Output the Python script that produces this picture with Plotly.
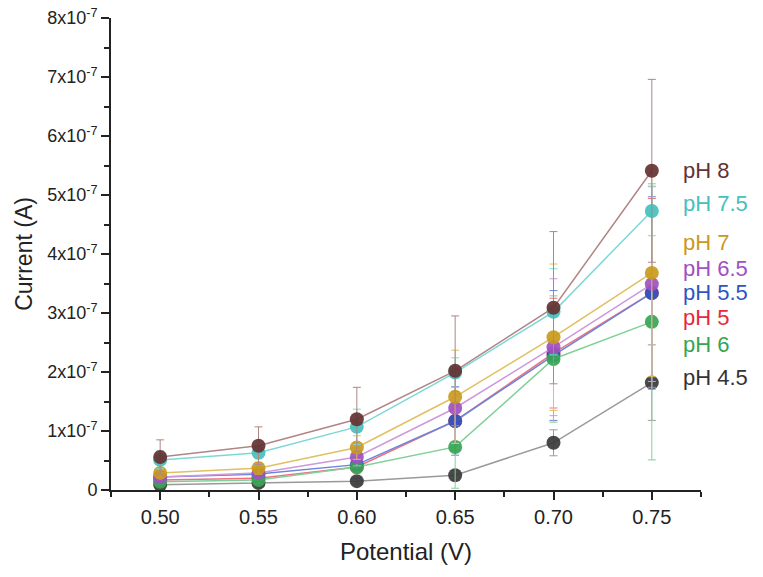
import plotly.graph_objects as go

potential = [0.50, 0.55, 0.60, 0.65, 0.70, 0.75]

series_names = ["pH 4.5", "pH 5", "pH 5.5", "pH 6", "pH 6.5", "pH 7", "pH 7.5", "pH 8"]

ph45 = [0.9e-8, 1.2e-8, 1.5e-8, 2.5e-8, 8.0e-8, 1.82e-7]
ph5 = [1.7e-8, 2.0e-8, 3.9e-8, 1.17e-7, 2.32e-7, 3.34e-7]
ph55 = [2.2e-8, 2.7e-8, 4.3e-8, 1.17e-7, 2.28e-7, 3.34e-7]
ph6 = [1.4e-8, 1.7e-8, 3.9e-8, 7.3e-8, 2.22e-7, 2.85e-7]
ph65 = [2.2e-8, 2.9e-8, 5.6e-8, 1.39e-7, 2.42e-7, 3.49e-7]
ph7 = [2.9e-8, 3.7e-8, 7.2e-8, 1.58e-7, 2.59e-7, 3.68e-7]
ph75 = [5.1e-8, 6.3e-8, 1.07e-7, 1.99e-7, 3.02e-7, 4.73e-7]
ph8 = [5.6e-8, 7.5e-8, 1.20e-7, 2.02e-7, 3.09e-7, 5.41e-7]

err45 = [0.3e-8, 0.4e-8, 0.5e-8, 0.8e-8, 0.22e-7, 0.64e-7]
err5 = [0.5e-8, 0.6e-8, 1.0e-8, 0.5e-7, 0.93e-7, 1.6e-7]
err55 = [0.6e-8, 0.8e-8, 1.2e-8, 0.58e-7, 1.1e-7, 1.63e-7]
err6 = [0.5e-8, 0.6e-8, 1.0e-8, 0.7e-7, 1.07e-7, 2.34e-7]
err65 = [0.6e-8, 0.8e-8, 1.5e-8, 0.6e-7, 1.16e-7, 1.65e-7]
err7 = [0.8e-8, 1.0e-8, 2.0e-8, 0.79e-7, 1.24e-7, 1.76e-7]
err75 = [1.5e-8, 2.0e-8, 3.0e-8, 0.25e-7, 0.73e-7, 0.42e-7]
err8 = [2.9e-8, 3.2e-8, 5.4e-8, 0.93e-7, 1.29e-7, 1.55e-7]

values = [ph45, ph5, ph55, ph6, ph65, ph7, ph75, ph8]
errors = [err45, err5, err55, err6, err65, err7, err75, err8]

marker_colors = ["#3a3a3a", "#e8283a", "#2f55c0", "#35a555", "#a050c0", "#c99a1c", "#45c0bd", "#643232"]
line_colors = ["#9a9a9a", "#f07080", "#6a85d8", "#80d098", "#cf98dc", "#e0c060", "#7dd8d5", "#b08585"]
label_colors = ["#333333", "#e8283a", "#2f55c0", "#35a555", "#a050c0", "#c99a1c", "#45c0bd", "#643232"]

label_y = [1.9e-7, 2.92e-7, 3.34e-7, 2.46e-7, 3.76e-7, 4.19e-7, 4.86e-7, 5.41e-7]

ytick_vals = [0, 1e-7, 2e-7, 3e-7, 4e-7, 5e-7, 6e-7, 7e-7, 8e-7]
ytick_text = ["0"] + [f"{i}x10<sup>-7</sup>" for i in range(1, 9)]
xtick_vals = [0.50, 0.55, 0.60, 0.65, 0.70, 0.75]
xtick_text = ["0.50", "0.55", "0.60", "0.65", "0.70", "0.75"]

FONT = "Liberation Sans, Arial, sans-serif"

fig = go.Figure()
for name, y, e, mc, lc in zip(series_names, values, errors, marker_colors, line_colors):
    fig.add_trace(go.Scatter(
        x=potential, y=y, name=name, mode="lines+markers",
        line=dict(color=lc, width=1.5),
        marker=dict(color=mc, size=14, opacity=0.92),
        error_y=dict(type="data", array=e, visible=True, color=lc, thickness=1, width=4),
        showlegend=False,
    ))

for name, ly, c in zip(series_names, label_y, label_colors):
    fig.add_annotation(x=0, xref="paper", y=ly, yref="y", text=name, showarrow=False,
                       xanchor="left", yanchor="middle", xshift=570,
                       font=dict(size=22, color=c, family=FONT))

fig.update_layout(
    width=763, height=577,
    margin=dict(l=111, r=62, t=18, b=87),
    plot_bgcolor="white", paper_bgcolor="white",
    font=dict(family=FONT, size=20, color="#222"),
    xaxis=dict(range=[0.475, 0.775], tickvals=xtick_vals, ticktext=xtick_text, automargin=False,
               showgrid=False, zeroline=False, showline=True, linecolor="#222", linewidth=2,
               ticks="outside", ticklen=8, tickwidth=1.5, tickcolor="#222",
               minor=dict(tickmode="linear", tick0=0.475, dtick=0.05, ticks="outside", ticklen=5, tickwidth=1.5, tickcolor="#222"),
               title=dict(text="Potential (V)", font=dict(size=24, color="#222"), standoff=16),
               tickfont=dict(size=20, color="#222")),
    yaxis=dict(range=[0, 8e-7], tickvals=ytick_vals, ticktext=ytick_text, automargin=False,
               ticklabeloverflow="allow",
               showgrid=False, zeroline=False, showline=True, linecolor="#222", linewidth=2,
               ticks="outside", ticklen=8, tickwidth=1.5, tickcolor="#222",
               minor=dict(tickmode="linear", tick0=0.5e-7, dtick=1e-7, ticks="outside", ticklen=5, tickwidth=1.5, tickcolor="#222"),
               title=dict(text="Current (A)", font=dict(size=23, color="#222"), standoff=8),
               tickfont=dict(size=18, color="#222")),
)

fig.write_html("out.html", config={"displayModeBar": False},
               post_script="document.body.style.margin='0';")
